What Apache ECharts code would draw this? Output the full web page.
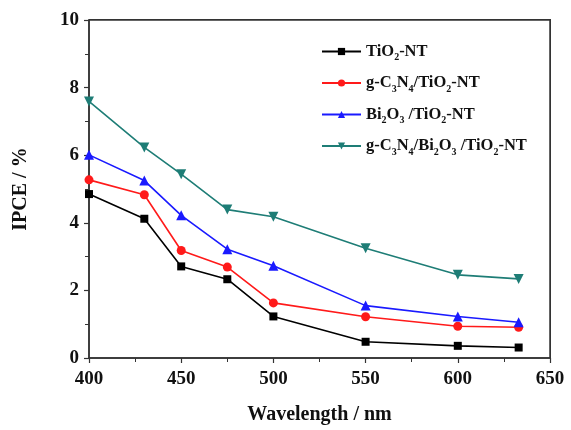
<!DOCTYPE html>
<html>
<head>
<meta charset="utf-8">
<script src="https://cdn.jsdelivr.net/npm/echarts@6/dist/echarts.min.js"></script>
<style>
  html, body { margin: 0; padding: 0; background: #fff; }
  #wrap { position: relative; width: 571px; height: 430px; }
  #chart { width: 571px; height: 430px; }
  #frame {
    position: absolute; box-sizing: border-box; pointer-events: none;
    border-top: 1.5px solid #333; border-right: 1.5px solid #333;
  }
</style>
</head>
<body>
<div id="wrap">
  <div id="chart"></div>
  <div id="frame"></div>
</div>
<script>
// wavelength (nm) and IPCE (%)
const wavelengths = [400, 430, 450, 475, 500, 550, 600, 633];
const tio2 = [4.85, 4.12, 2.71, 2.33, 1.23, 0.48, 0.36, 0.31];
const cnTio2 = [5.27, 4.83, 3.18, 2.69, 1.63, 1.22, 0.94, 0.91];
const biTio2 = [6.01, 5.25, 4.22, 3.22, 2.73, 1.55, 1.23, 1.06];
const cnBiTio2 = [7.59, 6.23, 5.44, 4.39, 4.18, 3.25, 2.46, 2.34];

const names = ["TiO2-NT", "g-C3N4/TiO2-NT", "Bi2O3 /TiO2-NT", "g-C3N4/Bi2O3 /TiO2-NT"];
const legendRich = {
  "TiO2-NT": "{m|TiO}{s|2}{m|-NT}",
  "g-C3N4/TiO2-NT": "{m|g-C}{s|3}{m|N}{s|4}{m|/TiO}{s|2}{m|-NT}",
  "Bi2O3 /TiO2-NT": "{m|Bi}{s|2}{m|O}{s|3}{m| /TiO}{s|2}{m|-NT}",
  "g-C3N4/Bi2O3 /TiO2-NT": "{m|g-C}{s|3}{m|N}{s|4}{m|/Bi}{s|2}{m|O}{s|3}{m| /TiO}{s|2}{m|-NT}",
};

const FONT = '"Liberation Serif", "DejaVu Serif", serif';
const AXIS_COLOR = "#333333";
const X_MIN = 400, X_MAX = 650, Y_MIN = 0, Y_MAX = 10;
const GRID = { left: 89, right: 21, top: 20, bottom: 72 };

function pairs(values) {
  return wavelengths.map((w, i) => [w, values[i]]);
}

function lineSeries(name, values, color, symbol, size, rotate) {
  return {
    name,
    type: "line",
    data: pairs(values),
    symbol,
    symbolSize: size,
    symbolRotate: rotate || 0,
    lineStyle: { color, width: 1.6 },
    itemStyle: { color },
    z: 3,
  };
}

const tickLabel = { fontFamily: FONT, fontWeight: "bold", fontSize: 19, color: "#111" };
const axisName = { fontFamily: FONT, fontWeight: "bold", fontSize: 20, color: "#111" };

const chart = echarts.init(document.getElementById("chart"));

chart.setOption({
  animation: false,
  grid: Object.assign({
    outerBoundsMode: "none",
    show: true,
    borderColor: AXIS_COLOR,
    borderWidth: 1.5,
  }, GRID),
  legend: {
    orient: "vertical",
    left: 316,
    top: 38,
    itemWidth: 39,
    itemHeight: 9,
    itemGap: 12,
    data: names,
    formatter: (n) => legendRich[n],
    textStyle: {
      rich: {
        m: { fontFamily: FONT, fontWeight: "bold", fontSize: 16.5, color: "#111", lineHeight: 22 },
        s: { fontFamily: FONT, fontWeight: "bold", fontSize: 10, color: "#111", lineHeight: 10, verticalAlign: "bottom" },
      },
    },
  },
  xAxis: {
    type: "value",
    min: X_MIN,
    max: X_MAX,
    interval: 50,
    name: "Wavelength / nm",
    nameLocation: "middle",
    nameGap: 47,
    nameTextStyle: axisName,
    axisLine: { onZero: false, lineStyle: { color: AXIS_COLOR, width: 1.5 } },
    axisTick: { inside: false, length: 5, lineStyle: { color: AXIS_COLOR, width: 1.2 } },
    minorTick: { show: true, splitNumber: 2, length: 4, lineStyle: { color: AXIS_COLOR, width: 1 } },
    axisLabel: Object.assign({ margin: 12 }, tickLabel),
    splitLine: { show: false },
  },
  yAxis: {
    type: "value",
    min: Y_MIN,
    max: Y_MAX,
    interval: 2,
    name: "IPCE / %",
    nameLocation: "middle",
    nameGap: 58,
    nameTextStyle: axisName,
    axisLine: { show: true, onZero: false, lineStyle: { color: AXIS_COLOR, width: 1.5 } },
    axisTick: { show: true, inside: false, length: 5, lineStyle: { color: AXIS_COLOR, width: 1.2 } },
    minorTick: { show: true, splitNumber: 2, length: 4, lineStyle: { color: AXIS_COLOR, width: 1 } },
    axisLabel: Object.assign({ margin: 10 }, tickLabel),
    splitLine: { show: false },
  },
  series: [
    lineSeries(names[0], tio2, "#000000", "rect", 8),
    lineSeries(names[1], cnTio2, "#ff1a1a", "circle", 9),
    lineSeries(names[2], biTio2, "#1a1aff", "triangle", 10),
    lineSeries(names[3], cnBiTio2, "#1e7d76", "triangle", 10, 180),
  ],
});

// top/right frame of the plot box, placed from the axis scales
let tl = null, br = null;
try {
  tl = chart.convertToPixel({ gridIndex: 0 }, [X_MIN, Y_MAX]);
  br = chart.convertToPixel({ gridIndex: 0 }, [X_MAX, Y_MIN]);
} catch (e) { tl = br = null; }
if (!tl || !br || !isFinite(tl[0]) || !isFinite(br[1])) {
  tl = [GRID.left, GRID.top];
  br = [571 - GRID.right, 430 - GRID.bottom];
}
const frame = document.getElementById("frame");
frame.style.left = tl[0] + "px";
frame.style.top = (tl[1] - 0.75) + "px";
frame.style.width = (br[0] - tl[0] + 0.75) + "px";
frame.style.height = (br[1] - tl[1] + 0.75) + "px";
</script>
</body>
</html>
